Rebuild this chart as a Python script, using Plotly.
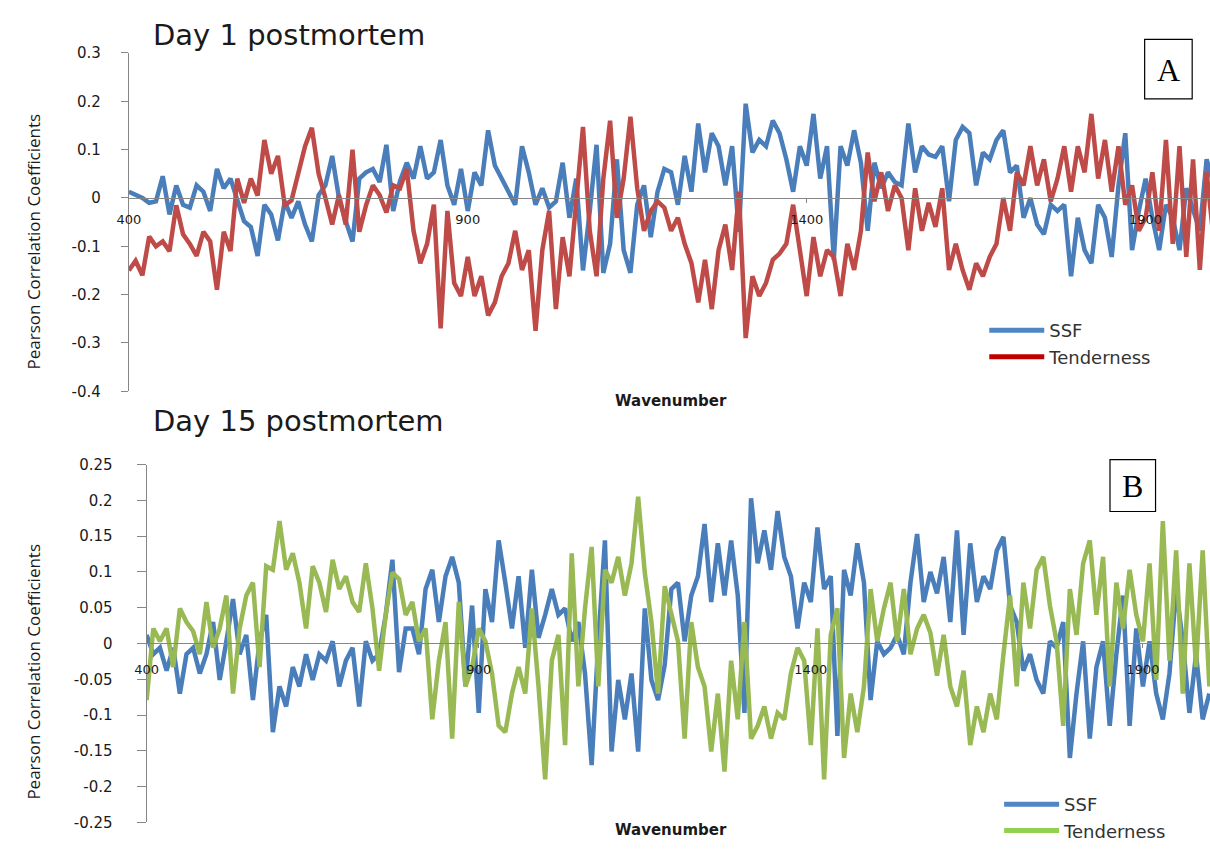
import plotly.graph_objects as go

# Wavenumber grid (cm-1)
wavenumber = list(range(400, 2001, 10))

# Day 1 postmortem: Pearson correlation coefficients
ssf_day1 = [
    0.013, 0.006, 0.0, -0.01, -0.007, 0.045, -0.034, 0.026, -0.014, -0.02,
    0.026, 0.013, -0.027, 0.06, 0.02, 0.04, -0.007, -0.048, -0.06, -0.12,
    -0.014, -0.034, -0.088, -0.007, -0.041, -0.007, -0.055, -0.09, 0.006, 0.026,
    0.087, 0.0, -0.048, -0.09, 0.04, 0.053, 0.06, 0.033, 0.11, -0.027,
    0.035, 0.073, 0.04, 0.107, 0.04, 0.053, 0.12, 0.026, -0.014, 0.06,
    -0.027, 0.053, 0.026, 0.14, 0.067, 0.04, 0.013, -0.014, 0.107, 0.053,
    -0.014, 0.02, -0.02, -0.007, 0.073, -0.041, 0.04, -0.15, -0.027, 0.11,
    -0.155, -0.095, 0.08, -0.108, -0.155, -0.014, 0.026, -0.081, 0.013, 0.06,
    0.053, -0.014, 0.087, 0.013, 0.154, 0.053, 0.134, 0.107, 0.026, 0.107,
    -0.07, 0.195, 0.094, 0.12, 0.107, 0.16, 0.134, 0.08, 0.013, 0.107,
    0.067, 0.174, 0.04, 0.107, -0.128, 0.107, 0.067, 0.14, 0.073, -0.068,
    0.073, 0.02, 0.053, 0.033, 0.026, 0.154, 0.053, 0.107, 0.09, 0.085,
    0.107, -0.007, 0.12, 0.147, 0.134, 0.026, 0.094, 0.08, 0.12, 0.14,
    0.053, 0.067, -0.041, 0.0, -0.055, -0.075, -0.014, -0.027, -0.014, -0.162,
    -0.041, -0.108, -0.135, -0.014, -0.041, -0.122, 0.026, 0.134, -0.108, -0.027,
    0.04, -0.041, -0.108, -0.014, -0.041, -0.108, 0.02, -0.027, -0.068, 0.08,
    0.03,
]
tender_day1 = [
    -0.15, -0.13, -0.16, -0.08, -0.1, -0.09, -0.11, -0.015, -0.075, -0.095,
    -0.12, -0.07, -0.09, -0.19, -0.07, -0.11, 0.04, -0.01, 0.04, 0.005,
    0.12, 0.05, 0.087, -0.015, -0.005, 0.05, 0.107, 0.145, 0.05, 0.0,
    -0.055, 0.006, -0.055, 0.1, -0.07, -0.015, 0.026, 0.006, -0.03, 0.026,
    0.02, 0.06, -0.068, -0.135, -0.095, -0.014, -0.27, -0.027, -0.176, -0.203,
    -0.122, -0.203, -0.162, -0.243, -0.216, -0.162, -0.135, -0.068, -0.149, -0.108,
    -0.275, -0.108, -0.027, -0.23, -0.081, -0.162, -0.014, 0.147, -0.068, -0.162,
    0.04, 0.16, -0.041, 0.04, 0.168, 0.02, -0.068, -0.027, -0.007, -0.02,
    -0.068, -0.041, -0.095, -0.135, -0.216, -0.128, -0.23, -0.108, -0.055, -0.149,
    0.013, -0.29, -0.162, -0.203, -0.176, -0.128, -0.115, -0.095, -0.014, -0.108,
    -0.203, -0.081, -0.162, -0.108, -0.122, -0.203, -0.095, -0.149, -0.068, 0.094,
    -0.007, 0.053, -0.027, 0.026, 0.0, -0.108, 0.02, -0.068, -0.01, -0.06,
    0.02, -0.149, -0.095, -0.149, -0.19, -0.135, -0.162, -0.122, -0.095, 0.0,
    -0.068, 0.053, 0.026, 0.107, 0.026, 0.08, -0.007, 0.04, 0.107, 0.013,
    0.107, 0.053, 0.174, 0.04, 0.12, 0.013, 0.107, -0.014, 0.026, -0.068,
    -0.041, 0.053, -0.068, 0.12, -0.095, 0.107, -0.122, 0.08, -0.149, 0.053,
    -0.08,
]

# Day 15 postmortem
ssf_day15 = [
    0.012, -0.015, -0.006, -0.038, -0.006, -0.07, -0.015, -0.006, -0.042, -0.015,
    0.03, -0.051, 0.003, 0.062, -0.015, 0.012, -0.079, 0.003, 0.04, -0.124,
    -0.06, -0.088, -0.033, -0.06, -0.015, -0.051, -0.015, -0.024, 0.003, -0.06,
    -0.024, -0.006, -0.088, 0.003, -0.024, -0.015, 0.04, 0.117, -0.04, 0.021,
    0.021, -0.015, 0.076, 0.103, 0.03, 0.094, 0.121, 0.085, -0.06, 0.053,
    -0.097, 0.076, 0.03, 0.144, 0.085, 0.021, 0.094, -0.006, 0.103, 0.008,
    0.04, 0.076, 0.04, 0.049, 0.003, 0.03, -0.042, -0.17, 0.003, 0.144,
    -0.151, -0.051, -0.106, -0.042, -0.151, 0.049, -0.051, -0.079, -0.03, 0.076,
    0.085, 0.003, 0.067, 0.094, 0.167, 0.058, 0.14, 0.067, 0.144, 0.067,
    -0.097, 0.203, 0.112, 0.158, 0.103, 0.185, 0.121, 0.094, 0.021, 0.085,
    0.058, 0.162, 0.076, 0.094, -0.129, 0.103, 0.067, 0.14, 0.085, -0.079,
    0.003, -0.015, -0.006, 0.012, -0.015, 0.085, 0.153, 0.058, 0.1, 0.07,
    0.121, 0.03, 0.158, 0.012, 0.14, 0.058, 0.094, 0.076, 0.13, 0.149,
    0.053, 0.03, -0.038, -0.015, -0.051, -0.07, 0.003, -0.006, 0.03, -0.16,
    -0.07, 0.003, -0.133, -0.033, 0.003, -0.115, -0.015, 0.067, -0.115, 0.021,
    -0.06, 0.003, -0.07, -0.106, -0.042, 0.076, 0.003, -0.097, -0.015, -0.106,
    -0.07,
]
tender_day15 = [
    -0.079, 0.021, 0.003, 0.021, -0.033, 0.049, 0.03, 0.017, -0.015, 0.058,
    -0.006, 0.021, 0.067, -0.07, 0.021, 0.067, 0.085, -0.033, 0.108, 0.103,
    0.171, 0.103, 0.126, 0.085, 0.021, 0.108, 0.085, 0.044, 0.117, 0.076,
    0.094, 0.058, 0.044, 0.112, 0.049, -0.038, 0.04, 0.099, 0.09, 0.04,
    0.058, 0.003, 0.021, -0.106, -0.024, 0.03, -0.133, 0.058, -0.06, -0.033,
    0.021, 0.003, -0.042, -0.115, -0.124, -0.07, -0.033, -0.07, 0.049, -0.06,
    -0.19, -0.024, 0.012, -0.142, 0.126, -0.06, 0.049, 0.135, -0.06, 0.103,
    0.085, 0.121, 0.067, 0.112, 0.205, 0.099, 0.03, -0.07, 0.08, 0.04,
    0.003, -0.133, 0.03, -0.033, -0.06, -0.151, -0.07, -0.179, -0.024, -0.106,
    0.03, -0.133, -0.115, -0.088, -0.133, -0.097, -0.106, -0.042, -0.006, -0.024,
    -0.142, 0.021, -0.19, 0.012, 0.049, -0.16, -0.07, -0.124, -0.06, 0.076,
    0.003, 0.049, 0.085, 0.003, 0.076, -0.015, 0.021, 0.04, 0.015, -0.045,
    0.012, -0.06, -0.088, -0.038, -0.142, -0.088, -0.124, -0.07, -0.106, -0.015,
    0.067, -0.06, 0.085, 0.021, 0.103, 0.121, 0.053, 0.003, -0.115, 0.076,
    0.012, 0.112, 0.144, 0.04, 0.121, -0.06, 0.085, 0.021, 0.103, 0.04,
    0.003, 0.112, -0.051, 0.171, -0.024, 0.13, -0.07, 0.112, -0.033, 0.13,
    -0.06,
]

# Axis tick labels
x_ticks = [400, 900, 1400, 1900]
x_ticktext = ["400", "900", "1400", "1900"]
y1_ticks = [-0.4, -0.3, -0.2, -0.1, 0.0, 0.1, 0.2, 0.3]
y1_ticktext = ["-0.4", "-0.3", "-0.2", "-0.1", "0", "0.1", "0.2", "0.3"]
y2_ticks = [-0.25, -0.2, -0.15, -0.1, -0.05, 0.0, 0.05, 0.1, 0.15, 0.2, 0.25]
y2_ticktext = ["-0.25", "-0.2", "-0.15", "-0.1", "-0.05", "0",
               "0.05", "0.1", "0.15", "0.2", "0.25"]

W, H = 1210, 849
BLUE = "#4A7EBB"
RED = "#BE4B48"
GREEN = "#98B954"
AXIS = "#868686"
TXT = "#1a1a1a"
LW = 4.5


def px_x(p):
    return p / W


def px_y(p):
    return 1 - p / H


fig = go.Figure()

# Panel A lines
fig.add_trace(go.Scatter(x=wavenumber, y=ssf_day1, mode="lines", name="SSF",
                         line=dict(color=BLUE, width=LW), showlegend=False,
                         xaxis="x", yaxis="y"))
fig.add_trace(go.Scatter(x=wavenumber, y=tender_day1, mode="lines", name="Tenderness",
                         line=dict(color=RED, width=LW), showlegend=False,
                         xaxis="x", yaxis="y"))
# Panel B lines
fig.add_trace(go.Scatter(x=wavenumber, y=ssf_day15, mode="lines", name="SSF",
                         line=dict(color=BLUE, width=LW), showlegend=False,
                         xaxis="x2", yaxis="y2"))
fig.add_trace(go.Scatter(x=wavenumber, y=tender_day15, mode="lines", name="Tenderness",
                         line=dict(color=GREEN, width=LW), showlegend=False,
                         xaxis="x2", yaxis="y2"))

# Legend entries
fig.add_trace(go.Scatter(x=[None], y=[None], mode="lines", name="SSF",
                         line=dict(color="#4F86C6", width=5), legend="legend",
                         xaxis="x", yaxis="y"))
fig.add_trace(go.Scatter(x=[None], y=[None], mode="lines", name="Tenderness",
                         line=dict(color="#C00000", width=5), legend="legend",
                         xaxis="x", yaxis="y"))
fig.add_trace(go.Scatter(x=[None], y=[None], mode="lines", name="SSF",
                         line=dict(color="#4F86C6", width=5), legend="legend2",
                         xaxis="x2", yaxis="y2"))
fig.add_trace(go.Scatter(x=[None], y=[None], mode="lines", name="Tenderness",
                         line=dict(color="#92D050", width=5), legend="legend2",
                         xaxis="x2", yaxis="y2"))

tickfont = dict(family="DejaVu Sans", size=15, color=TXT)
common_x = dict(showline=True, linecolor=AXIS, linewidth=1, ticks="outside",
                ticklen=4, tickcolor=AXIS, showgrid=False, zeroline=False,
                tickvals=x_ticks, ticktext=x_ticktext,
                tickfont=dict(family="DejaVu Sans", size=13, color=TXT),
                anchor="free")
common_y = dict(showline=True, linecolor=AXIS, linewidth=1, ticks="outside",
                tickcolor=AXIS, showgrid=False, zeroline=False, tickfont=tickfont)

legend_font = dict(family="DejaVu Sans", size=18, color="#333333")

fig.update_layout(
    width=W, height=H,
    margin=dict(l=0, r=0, t=0, b=0),
    paper_bgcolor="white", plot_bgcolor="white",
    xaxis=dict(domain=[px_x(118), 1], range=[400, 1995],
               position=px_y(193), ticklabelstandoff=6, **common_x),
    yaxis=dict(domain=[px_y(391), px_y(45)], range=[-0.4, 0.3], anchor="x",
               tickvals=y1_ticks, ticktext=y1_ticktext, ticklen=7,
               ticklabelstandoff=17, **common_y),
    xaxis2=dict(domain=[px_x(136), 1], range=[400, 2001],
                position=px_y(649), ticklabelstandoff=10, **common_x),
    yaxis2=dict(domain=[px_y(832), px_y(466)], range=[-0.25, 0.25], anchor="x2",
                tickvals=y2_ticks, ticktext=y2_ticktext, ticklen=9,
                ticklabelstandoff=21, **common_y),
    legend=dict(x=px_x(982), y=px_y(310), xanchor="left", yanchor="top",
                bgcolor="rgba(0,0,0,0)", font=legend_font, itemwidth=55,
                tracegroupgap=0),
    legend2=dict(x=px_x(997), y=px_y(795), xanchor="left", yanchor="top",
                 bgcolor="rgba(0,0,0,0)", font=legend_font, itemwidth=55,
                 tracegroupgap=0),
    showlegend=True,
)

title_font = dict(family="DejaVu Sans", size=29, color=TXT)
ytitle_font = dict(family="Open Sans", size=17, color=TXT)
xtitle_font = dict(family="DejaVu Sans", size=15, color=TXT)
letter_font = dict(family="Liberation Serif", size=32, color="#000000")

annotations = [
    dict(text="Day 1 postmortem", x=px_x(140), y=px_y(27), xanchor="left",
         yanchor="middle", font=title_font),
    dict(text="Day 15 postmortem", x=px_x(140), y=px_y(421), xanchor="left",
         yanchor="middle", font=title_font),
    dict(text="Pearson Correlation Coefficients", x=px_x(22), y=px_y(238),
         textangle=-90, xanchor="center", yanchor="middle", font=ytitle_font),
    dict(text="Pearson Correlation Coefficients", x=px_x(22), y=px_y(678),
         textangle=-90, xanchor="center", yanchor="middle", font=ytitle_font),
    dict(text="<b>Wavenumber</b>", x=px_x(666), y=px_y(401), xanchor="center",
         yanchor="middle", font=xtitle_font),
    dict(text="<b>Wavenumber</b>", x=px_x(666), y=px_y(840), xanchor="center",
         yanchor="middle", font=xtitle_font),
    dict(text="A", x=px_x(1168), y=px_y(62), xanchor="center", yanchor="middle",
         font=letter_font),
    dict(text="B", x=px_x(1132), y=px_y(488), xanchor="center", yanchor="middle",
         font=letter_font),
]
for a in annotations:
    a.update(xref="paper", yref="paper", showarrow=False)

shapes = [
    dict(type="rect", xref="paper", yref="paper", x0=px_x(1144), x1=px_x(1192),
         y0=px_y(92), y1=px_y(31), line=dict(color="#000000", width=1.2)),
    dict(type="rect", xref="paper", yref="paper", x0=px_x(1109), x1=px_x(1155),
         y0=px_y(514), y1=px_y(461), line=dict(color="#000000", width=1.2)),
]

fig.update_layout(annotations=annotations, shapes=shapes)

fig.write_html("out.html")
